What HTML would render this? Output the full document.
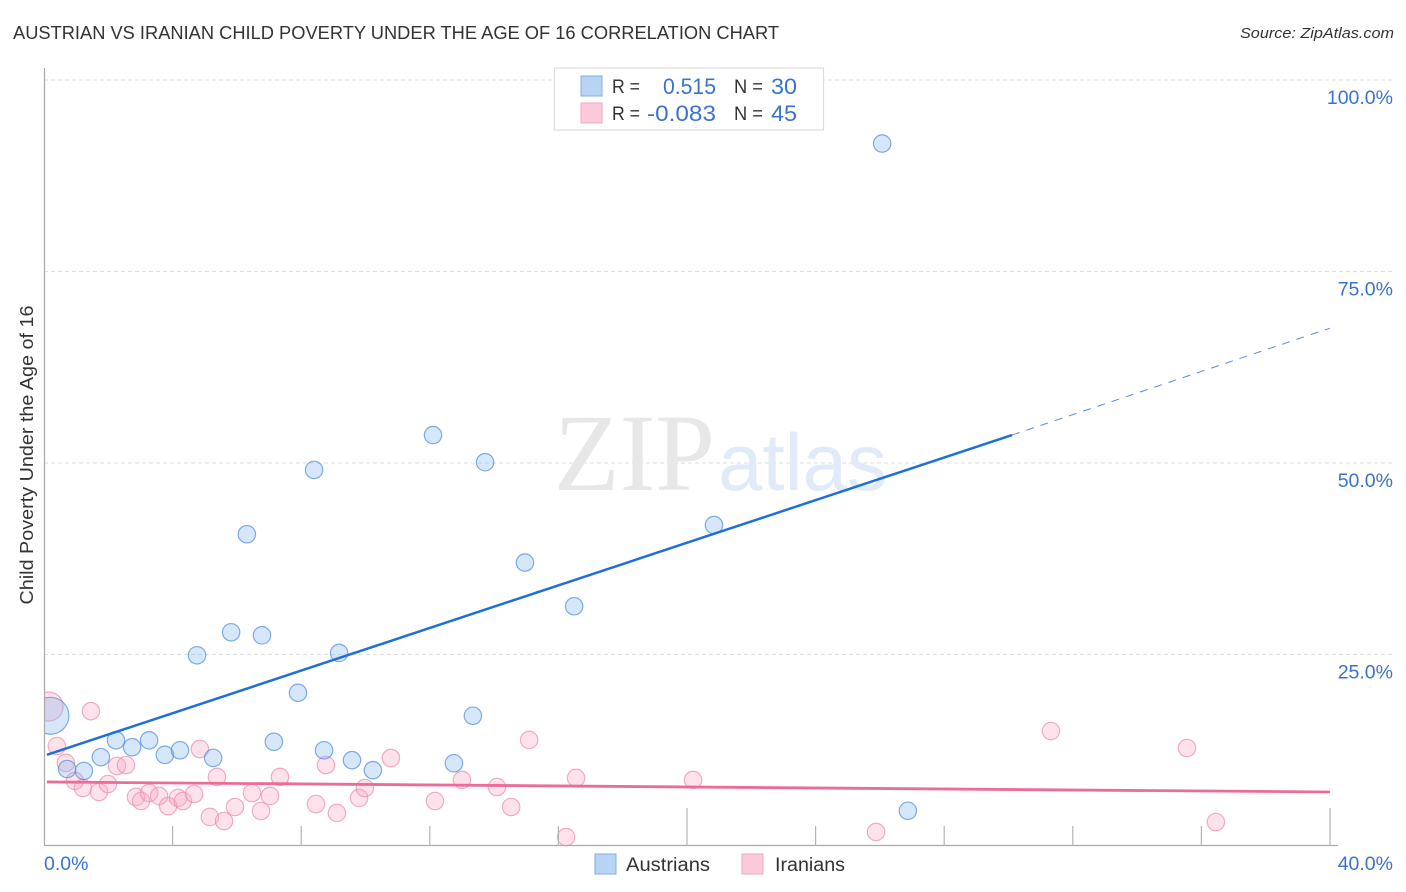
<!DOCTYPE html>
<html lang="en">
<head>
<meta charset="utf-8">
<title>Austrian vs Iranian Child Poverty Correlation Chart</title>
<style>
html,body{margin:0;padding:0;background:#fff;width:1406px;height:892px;overflow:hidden}
svg{display:block}
text{font-family:"Liberation Sans",sans-serif}
</style>
</head>
<body>
<svg id="chart" xmlns="http://www.w3.org/2000/svg" width="1406" height="892" viewBox="0 0 1406 892">
  <text x="13" y="39" font-size="18.5" fill="#333" textLength="766" lengthAdjust="spacingAndGlyphs">AUSTRIAN VS IRANIAN CHILD POVERTY UNDER THE AGE OF 16 CORRELATION CHART</text>
  <text x="1394" y="38" font-size="15" font-style="italic" fill="#333" text-anchor="end" textLength="154" lengthAdjust="spacingAndGlyphs">Source: ZipAtlas.com</text>

  <g id="grid"></g>

  <g>
    <text x="554" y="490" font-size="110" fill="#e7e7e7" textLength="161" lengthAdjust="spacingAndGlyphs" style="font-family:'Liberation Serif',serif">ZIP</text>
    <text x="718" y="490" font-size="81" fill="#e0eaf8" textLength="169" lengthAdjust="spacingAndGlyphs">atlas</text>
  </g>

  <g id="points"></g>
  <rect x="0" y="670" width="44.5" height="80" fill="#fff"/>

  <g id="axes">
    <line x1="44.5" y1="68" x2="44.5" y2="846" stroke="#aaa" stroke-width="1.2"/>
    <line x1="44" y1="845.5" x2="1338" y2="845.5" stroke="#aaa" stroke-width="1.2"/>
  </g>
  <g id="x-ticks"></g>
  <g id="y-labels"></g>
  <g id="x-labels"></g>
  <text transform="translate(33 455) rotate(-90)" font-size="18" fill="#333" text-anchor="middle" textLength="299" lengthAdjust="spacingAndGlyphs">Child Poverty Under the Age of 16</text>

  <g id="trends"></g>

  <g>
    <rect x="554.5" y="68" width="269" height="62" fill="#fff" stroke="#ddd" stroke-width="1.2"/>
    <rect x="581" y="76" width="21" height="20" fill="#b8d4f5" stroke="#80aee6" stroke-width="1"/>
    <rect x="581" y="103" width="21" height="20" fill="#fcc9da" stroke="#f3a6c0" stroke-width="1"/>
    <text x="612" y="93" font-size="19" fill="#333" textLength="28" lengthAdjust="spacingAndGlyphs">R =</text>
    <text x="716" y="94" font-size="22" fill="#3a73cf" text-anchor="end" textLength="53" lengthAdjust="spacingAndGlyphs">0.515</text>
    <text x="734" y="93" font-size="19" fill="#333" textLength="29" lengthAdjust="spacingAndGlyphs">N =</text>
    <text x="797" y="94" font-size="22" fill="#3a73cf" text-anchor="end" textLength="26" lengthAdjust="spacingAndGlyphs">30</text>
    <text x="612" y="120" font-size="19" fill="#333" textLength="28" lengthAdjust="spacingAndGlyphs">R =</text>
    <text x="716" y="121" font-size="22" fill="#3a73cf" text-anchor="end" textLength="69" lengthAdjust="spacingAndGlyphs">-0.083</text>
    <text x="734" y="120" font-size="19" fill="#333" textLength="29" lengthAdjust="spacingAndGlyphs">N =</text>
    <text x="797" y="121" font-size="22" fill="#3a73cf" text-anchor="end" textLength="26" lengthAdjust="spacingAndGlyphs">45</text>
  </g>

  <g>
    <rect x="595" y="854" width="21" height="20" fill="#b8d4f5" stroke="#80aee6" stroke-width="1"/>
    <text x="626" y="871" font-size="19" fill="#333" textLength="84" lengthAdjust="spacingAndGlyphs">Austrians</text>
    <rect x="742" y="854" width="21" height="20" fill="#fcc9da" stroke="#f3a6c0" stroke-width="1"/>
    <text x="775" y="871" font-size="19" fill="#333" textLength="70" lengthAdjust="spacingAndGlyphs">Iranians</text>
  </g>
</svg>
<script>
var yTickValues = [100, 75, 50, 25];
var yTickLabels = ['100.0%', '75.0%', '50.0%', '25.0%'];
var xTickValues = [4, 8, 12, 16, 20, 24, 28, 32, 36, 40];
var xMajorTicks = [20, 40];
var xEdgeLabels = ['0.0%', '40.0%'];

var austrianX = [26.07, 12.10, 13.72, 8.40, 6.31, 20.84, 14.96, 16.49, 5.82, 6.78, 4.76, 9.18, 7.90, 13.34, 0.20, 2.24, 3.27, 2.74, 1.77, 3.76, 4.23, 5.26, 7.15, 8.71, 9.58, 10.23, 12.75, 0.72, 1.24, 26.87];
var austrianY = [91.7, 53.65, 50.1, 49.1, 40.7, 41.9, 37.0, 31.3, 27.9, 27.5, 24.9, 25.2, 20.0, 17.0, 17.0, 13.8, 13.8, 12.9, 11.6, 11.9, 12.5, 11.5, 13.6, 12.5, 11.2, 9.9, 10.8, 10.05, 9.8, 4.6];
var austrianWeight = [1, 1, 1, 1, 1, 1, 1, 1, 1, 1, 1, 1, 1, 1, 4.5, 1, 1, 1, 1, 1, 1, 1, 1, 1, 1, 1, 1, 1, 1, 1];

var iranianX = [0.14, 1.46, 0.40, 0.68, 0.96, 1.21, 1.71, 1.99, 2.27, 2.55, 2.86, 3.02, 3.27, 3.58, 3.86, 4.17, 4.32, 4.67, 4.85, 5.38, 5.16, 5.60, 5.94, 6.47, 6.75, 7.03, 7.34, 8.46, 9.11, 9.80, 9.98, 8.77, 10.79, 12.16, 13.0, 14.09, 14.53, 15.09, 16.55, 16.24, 20.19, 25.88, 31.32, 35.55, 36.45];
var iranianY = [18.2, 17.6, 13.05, 10.84, 8.49, 7.57, 7.05, 8.09, 10.44, 10.57, 6.40, 5.87, 6.92, 6.53, 5.22, 6.27, 5.87, 6.79, 12.66, 9.01, 3.79, 3.26, 5.09, 6.92, 4.57, 6.53, 9.01, 5.48, 4.31, 6.27, 7.57, 10.57, 11.49, 5.87, 8.62, 7.70, 5.09, 13.84, 8.88, 1.17, 8.62, 1.83, 15.01, 12.79, 3.13];
var iranianWeight = [2.8, 1, 1, 1, 1, 1, 1, 1, 1, 1, 1, 1, 1, 1, 1, 1, 1, 1, 1, 1, 1, 1, 1, 1, 1, 1, 1, 1, 1, 1, 1, 1, 1, 1, 1, 1, 1, 1, 1, 1, 1, 1, 1, 1, 1];

var austrianTrendX = [0.09, 30.11];
var austrianTrendY = [11.9, 53.65];
var austrianForecastX = [30.11, 40];
var austrianForecastY = [53.65, 67.6];
var iranianTrendX = [0.09, 40];
var iranianTrendY = [8.36, 7.05];

var NS = 'http://www.w3.org/2000/svg';
function xScale(v) { return 44 + v * 32.15; }
function yScale(v) { return 846 - v * 7.66; }
function make(tag, attrs, parent) {
  var el = document.createElementNS(NS, tag);
  for (var k in attrs) { el.setAttribute(k, attrs[k]); }
  parent.appendChild(el);
  return el;
}

var grid = document.getElementById('grid');
var yLabels = document.getElementById('y-labels');
yTickValues.forEach(function (v, i) {
  var line = make('line', { x1: 44, x2: 1394, y1: yScale(v), y2: yScale(v), stroke: '#dcdcdc', 'stroke-width': 1, 'stroke-dasharray': '4 3' }, grid);
  
  
  var label = make('text', { x: 1393, y: yScale(v) + 24, 'font-size': 19.5, fill: '#3a73cf', 'text-anchor': 'end' }, yLabels);
  
  
  label.textContent = yTickLabels[i];
});

var xTicks = document.getElementById('x-ticks');
xTickValues.forEach(function (v) {
  var major = xMajorTicks.indexOf(v) >= 0;
  var tick = make('line', { x1: xScale(v), x2: xScale(v), y1: major ? 808 : 826, y2: 846, stroke: '#b4b4b4', 'stroke-width': 1.2 }, xTicks);
  
  
});

var xLabels = document.getElementById('x-labels');
var xLabelStart = make('text', { x: 44, y: 870, 'font-size': 19.5, fill: '#3a73cf' }, xLabels);


xLabelStart.textContent = xEdgeLabels[0];
var xLabelEnd = make('text', { x: 1393, y: 870, 'font-size': 19.5, fill: '#3a73cf', 'text-anchor': 'end' }, xLabels);


xLabelEnd.textContent = xEdgeLabels[1];

var points = document.getElementById('points');
iranianX.forEach(function (v, i) {
  var c = make('circle', { cx: xScale(v), cy: yScale(iranianY[i]), r: 8.7 * Math.sqrt(iranianWeight[i]), fill: 'rgba(250,170,195,0.34)', stroke: 'rgba(236,140,170,0.7)', 'stroke-width': 1.2 }, points);
  
  
});
austrianX.forEach(function (v, i) {
  var c = make('circle', { cx: xScale(v), cy: yScale(austrianY[i]), r: 8.7 * Math.sqrt(austrianWeight[i]), fill: 'rgba(130,180,240,0.32)', stroke: 'rgba(70,135,220,0.68)', 'stroke-width': 1.2 }, points);
  
  
});

var trends = document.getElementById('trends');
var forecast = make('line', { x1: xScale(austrianForecastX[0]), y1: yScale(austrianForecastY[0]), x2: xScale(austrianForecastX[1]), y2: yScale(austrianForecastY[1]), stroke: '#5b8ad6', 'stroke-width': 1, 'stroke-dasharray': '8 7' }, trends);


var austrianTrend = make('line', { x1: xScale(austrianTrendX[0]), y1: yScale(austrianTrendY[0]), x2: xScale(austrianTrendX[1]), y2: yScale(austrianTrendY[1]), stroke: '#1f6fd8', 'stroke-width': 2.5 }, trends);


var iranianTrend = make('line', { x1: xScale(iranianTrendX[0]), y1: yScale(iranianTrendY[0]), x2: xScale(iranianTrendX[1]), y2: yScale(iranianTrendY[1]), stroke: '#ec6c98', 'stroke-width': 2.8 }, trends);


</script>
</body>
</html>
